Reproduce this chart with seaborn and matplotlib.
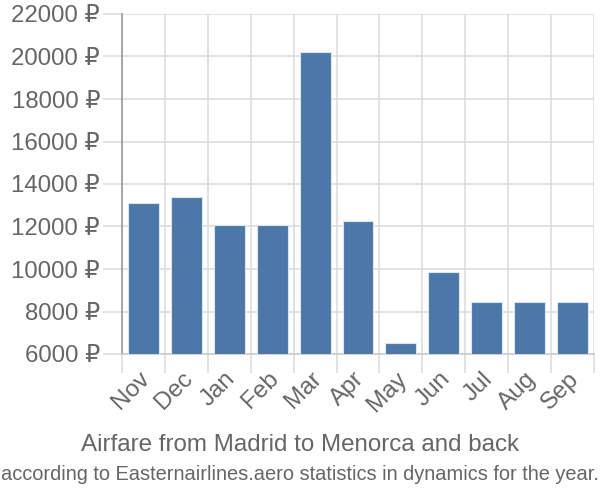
import matplotlib
matplotlib.use("Agg")
import matplotlib.pyplot as plt
import matplotlib.transforms as mtransforms
import seaborn as sns
import pandas as pd
import numpy as np
from matplotlib.ticker import FixedLocator

months = ["Nov", "Dec", "Jan", "Feb", "Mar", "Apr", "May", "Jun", "Jul", "Aug", "Sep"]
prices = [13090, 13375, 12070, 12070, 20200, 12260, 6520, 9845, 8460, 8460, 8460]
yticks = [6000, 8000, 10000, 12000, 14000, 16000, 18000, 20000, 22000]
title = "Airfare from Madrid to Menorca and back"
subtitle = "according to Easternairlines.aero statistics in dynamics for the year."

sns.set_style("white")
plt.rcParams['font.family'] = ['Liberation Sans', 'DejaVu Sans']

df = pd.DataFrame({"month": months, "price": prices})

fig = plt.figure(figsize=(6, 5), dpi=100)
ax = fig.add_axes([122/600, (500-354)/500, (594-122)/600, (354-14)/500])

sns.barplot(data=df, x="month", y="price", color="#4c78a8", saturation=1, width=0.72,
            edgecolor="#dce6f0", linewidth=0.8, ax=ax, zorder=3)

ax.set_ylim(6000, 22000)
ax.set_xlim(-0.5, len(months) - 0.5)
ax.set_yticks(yticks)
ax.set_yticklabels([f"{v} ₽" for v in yticks])
ax.set_xticks(range(len(months)))
ax.set_xticklabels(months, rotation=45, ha="right", rotation_mode="anchor")
ax.xaxis.set_minor_locator(FixedLocator(np.arange(-0.5, len(months), 1.0)))

grid_c = "#dddddd"
ax.grid(False)
ax.grid(True, axis="y", which="major", color=grid_c, linewidth=1.2, zorder=0)
ax.grid(True, axis="x", which="minor", color=grid_c, linewidth=1.2, zorder=0)
ax.set_axisbelow(True)

ax.tick_params(axis="y", which="major", length=13.7, width=1.2, color=grid_c,
               labelsize=17.3, labelcolor="#666666", pad=2, left=True)
ax.tick_params(axis="x", which="major", length=0, labelsize=17.5,
               labelcolor="#666666", pad=12)
ax.tick_params(axis="x", which="minor", length=13.7, width=1.2, color=grid_c, bottom=True)

for s in ["top", "right"]:
    ax.spines[s].set_visible(False)
ax.spines["left"].set_color("#999999")
ax.spines["left"].set_linewidth(1.2)
ax.spines["bottom"].set_color("#cccccc")
ax.spines["bottom"].set_linewidth(1.2)
ax.set_xlabel("")
ax.set_ylabel("")

fig.text(0.5, 1 - 445/500, title, ha="center", va="center", fontsize=17.4, color="#666666")
fig.text(0.5, 1 - 475/500, subtitle, ha="center", va="center", fontsize=14.4, color="#666666")

fig.canvas.draw()
offset = mtransforms.ScaledTranslation(-0.05, 0.03, fig.dpi_scale_trans)
for tick in ax.xaxis.get_major_ticks():
    tick.label1.set_transform(tick.label1.get_transform() + offset)

fig.savefig("out.png", dpi=100)
